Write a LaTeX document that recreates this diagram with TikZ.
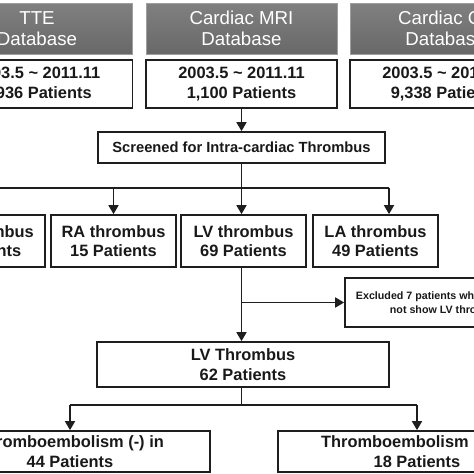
\documentclass[tikz,border=0pt]{standalone}
\usepackage{fontspec}
\setmainfont{Liberation Sans}
\usetikzlibrary{arrows.meta}
\definecolor{hdr}{RGB}{104,104,104}
\definecolor{hdrtop}{RGB}{128,128,128}
\definecolor{lncol}{RGB}{30,30,30}
\definecolor{txt}{RGB}{25,25,25}
\begin{document}
\begin{tikzpicture}[x=1pt,y=-1pt,
  hdrbox/.style={rectangle, minimum width=191pt, minimum height=51pt, top color=hdrtop, bottom color=hdr, draw=gray!75, line width=0.8pt, text=white, font=\fontsize{18.7}{21.5}\selectfont, align=center, inner sep=0pt},
  wbox/.style={rectangle, draw=lncol, line width=1.7pt, fill=white, font=\bfseries\fontsize{16.4}{19.5}\selectfont, text=txt, align=center, inner sep=0pt},
  arr/.style={draw=lncol, line width=1.7pt, -{Triangle[length=9pt,width=10pt]}},
  conn/.style={draw=lncol, line width=1.7pt}
]
\useasboundingbox (0,0) rectangle (474,474);
\clip (0,0) rectangle (474,474);
% headers
\node[hdrbox] (h1) at (37,28.5) {TTE\\Database};
\node[hdrbox] (h2) at (241.5,28.5) {Cardiac MRI\\Database};
\node[hdrbox] (h3) at (445.5,28.5) {Cardiac CT\\Database};
% date boxes
\node[wbox, minimum width=191pt, minimum height=48pt] (d1) at (37,84) {2003.5 \textasciitilde{} 2011.11\\1,936 Patients};
\node[wbox, minimum width=191pt, minimum height=48pt] (d2) at (241.5,84) {2003.5 \textasciitilde{} 2011.11\\1,100 Patients};
\node[wbox, minimum width=191pt, minimum height=48pt] (d3) at (445.5,84) {2003.5 \textasciitilde{} 2011.11\\9,338 Patients};
% screening
\node[wbox, minimum width=287pt, minimum height=31pt, font=\bfseries\fontsize{14.7}{17}\selectfont] (scr) at (241.5,147.5) {Screened for Intra-cardiac Thrombus};
% thrombus row
\node[wbox, minimum width=125pt, minimum height=52pt] (b0) at (-17.5,241) {RV thrombus\\5 Patients};
\node[wbox, minimum width=125pt, minimum height=52pt] (ra) at (113.5,241) {RA thrombus\\15 Patients};
\node[wbox, minimum width=125pt, minimum height=52pt] (lv) at (243.5,241) {LV thrombus\\69 Patients};
\node[wbox, minimum width=125pt, minimum height=52pt] (la) at (375.5,241) {LA thrombus\\49 Patients};
% excluded
\node[wbox, minimum width=205pt, minimum height=49pt, font=\bfseries\fontsize{10.7}{14.5}\selectfont] (exc) at (447.5,302.5) {Excluded 7 patients whose CMR did\\not show LV thrombus};
% LV thrombus
\node[wbox, minimum width=292pt, minimum height=45pt] (lvt) at (243,364.5) {LV Thrombus\\62 Patients};
% outcomes
\node[wbox, minimum width=280pt, minimum height=41pt, font=\bfseries\fontsize{16.4}{20}\selectfont] (te0) at (70,451.5) {Thromboembolism (-) in\\44 Patients};
\node[wbox, minimum width=278pt, minimum height=41pt, font=\bfseries\fontsize{16.4}{20}\selectfont] (te1) at (417,451.5) {Thromboembolism (+) in\\18 Patients};
% connectors
\draw[arr] (d2.south) -- (scr.north);
\coordinate (bus) at (241.5,188);
\coordinate (busL) at (-17.5,188);
\coordinate (busR) at (389,188);
\draw[conn] (scr.south) -- (bus);
\draw[conn] (busL) -- (busR);
\draw[arr] (busL) -- (busL |- b0.north);
\draw[arr] (ra.north |- bus) -- (ra.north);
\draw[arr] (bus) -- (bus |- lv.north);
\draw[arr] (busR) -- (busR |- la.north);
\draw[arr] (lv.south -| bus) -- (lvt.north -| bus);
\coordinate (br) at (241.5,302.5);
\draw[arr] (br) -- (exc.west);
\coordinate (bus2) at (241.5,405);
\draw[conn] (lvt.south -| bus2) -- (bus2);
\draw[conn] (te0.north |- bus2) -- (te1.north |- bus2);
\draw[arr] (te0.north |- bus2) -- (te0.north);
\draw[arr] (te1.north |- bus2) -- (te1.north);
\end{tikzpicture}
\end{document}
